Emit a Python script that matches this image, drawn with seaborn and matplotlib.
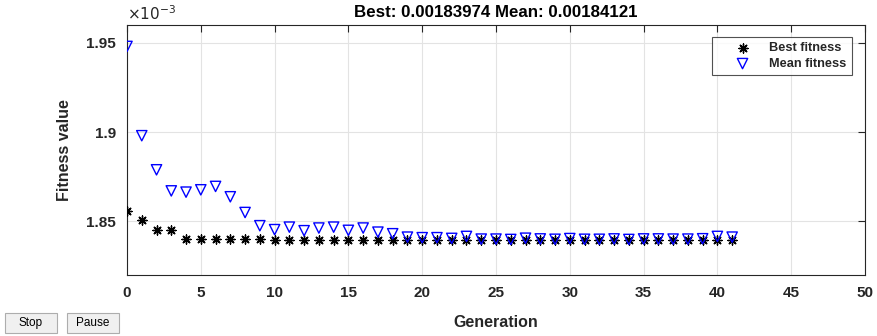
import numpy as np
import pandas as pd
import seaborn as sns
import matplotlib
matplotlib.use("Agg")
import matplotlib.pyplot as plt
from matplotlib.patches import Rectangle
from matplotlib.ticker import FuncFormatter

generations = list(range(0, 42))
best_fitness = [1.8561, 1.8506, 1.8450, 1.8450, 1.8400, 1.8400, 1.8400, 1.8400, 1.8400, 1.8400,
                1.8394, 1.8394, 1.8394, 1.8394, 1.8394, 1.8394, 1.8394, 1.8394, 1.8394, 1.8394,
                1.8394, 1.8394, 1.8394, 1.8394, 1.8394, 1.8394, 1.8394, 1.8394, 1.8394, 1.8394,
                1.8394, 1.8394, 1.8394, 1.8394, 1.8394, 1.8394, 1.8394, 1.8394, 1.8394, 1.8394,
                1.8394, 1.83974]
mean_fitness = [1.9480, 1.8980, 1.8789, 1.8671, 1.8664, 1.8677, 1.8696, 1.8638, 1.8550, 1.8476,
                1.8454, 1.8468, 1.8448, 1.8463, 1.8468, 1.8450, 1.8463, 1.8440, 1.8431, 1.8412,
                1.8409, 1.8409, 1.8405, 1.8416, 1.8401, 1.8401, 1.8399, 1.8406, 1.8402, 1.8400,
                1.8404, 1.8400, 1.8400, 1.8402, 1.8399, 1.8402, 1.8402, 1.8401, 1.8401, 1.8403,
                1.8416, 1.84121]
best_fitness = [v * 1e-3 for v in best_fitness]
mean_fitness = [v * 1e-3 for v in mean_fitness]

title = "Best: 0.00183974 Mean: 0.00184121"
xticks = [0, 5, 10, 15, 20, 25, 30, 35, 40, 45, 50]
yticks = [1.85e-3, 1.90e-3, 1.95e-3]

sns.set_style("white")
plt.rcParams['font.family'] = ['Liberation Sans', 'DejaVu Sans']

fig = plt.figure(figsize=(8.77, 3.36), dpi=100)
ax = fig.add_axes([127/877, 1-275/336, (865-127)/877, (275-25)/336])

df_best = pd.DataFrame({"Generation": generations, "Fitness": best_fitness})
df_mean = pd.DataFrame({"Generation": generations, "Fitness": mean_fitness})

sns.scatterplot(data=df_best, x="Generation", y="Fitness", ax=ax, marker=(8, 2, 0),
                color="black", s=42, linewidth=1.0, label="Best fitness", zorder=3)
sns.scatterplot(data=df_mean, x="Generation", y="Fitness", ax=ax, marker="v",
                facecolors="none", edgecolor="blue", s=55, linewidth=1.0,
                label="Mean fitness", zorder=3)

ax.set_xlim(0, 50)
ax.set_ylim(1.82e-3, 1.96e-3)
ax.set_xticks(xticks)
ax.set_yticks(yticks)
ax.yaxis.set_major_formatter(FuncFormatter(lambda v, p: "%g" % round(v * 1e3, 4)))
ax.grid(True, color="#e3e3e3", linewidth=0.8)
ax.set_axisbelow(True)
for s in ax.spines.values():
    s.set_color("#262626")
    s.set_linewidth(0.8)
ax.tick_params(axis="both", direction="in", length=5, width=0.8, color="#262626",
               labelsize=11, labelcolor="#262626", top=True, right=True, pad=8)
for lab in ax.get_xticklabels() + ax.get_yticklabels():
    lab.set_fontweight("bold")

ax.set_xlabel("Generation", fontsize=11.5, fontweight="bold", color="#262626", labelpad=11)
ax.set_ylabel("Fitness value", fontsize=11.5, fontweight="bold", color="#262626", labelpad=10)
ax.set_title(title, fontsize=12.2, fontweight="bold", color="#000000", pad=6)
ax.text(0.0, 1.01, r"$\times10^{-3}$", transform=ax.transAxes, fontsize=11,
        ha="left", va="bottom", color="#262626")

leg = ax.legend(loc="upper right", bbox_to_anchor=(0.982, 0.952), frameon=True,
                fancybox=False, edgecolor="#262626", fontsize=9.2, borderpad=0.4,
                handlelength=4.0, handletextpad=0.1, markerscale=1.0,
                labelspacing=0.3, borderaxespad=0)
leg.get_frame().set_linewidth(0.8)
for t in leg.get_texts():
    t.set_fontweight("bold")

# Stop / Pause buttons
for (x0, w, txt) in [(5, 52, "Stop"), (67, 52, "Pause")]:
    fig.patches.append(Rectangle((x0/877, 1-333/336), w/877, 20/336, transform=fig.transFigure,
                                 facecolor="#f0f0f0", edgecolor="#adadad", linewidth=0.8))
    fig.text((x0 + w/2)/877, 1-323/336, txt, ha="center", va="center", fontsize=8.5, color="#000000")

fig.savefig("out.png", dpi=100, facecolor="white")
